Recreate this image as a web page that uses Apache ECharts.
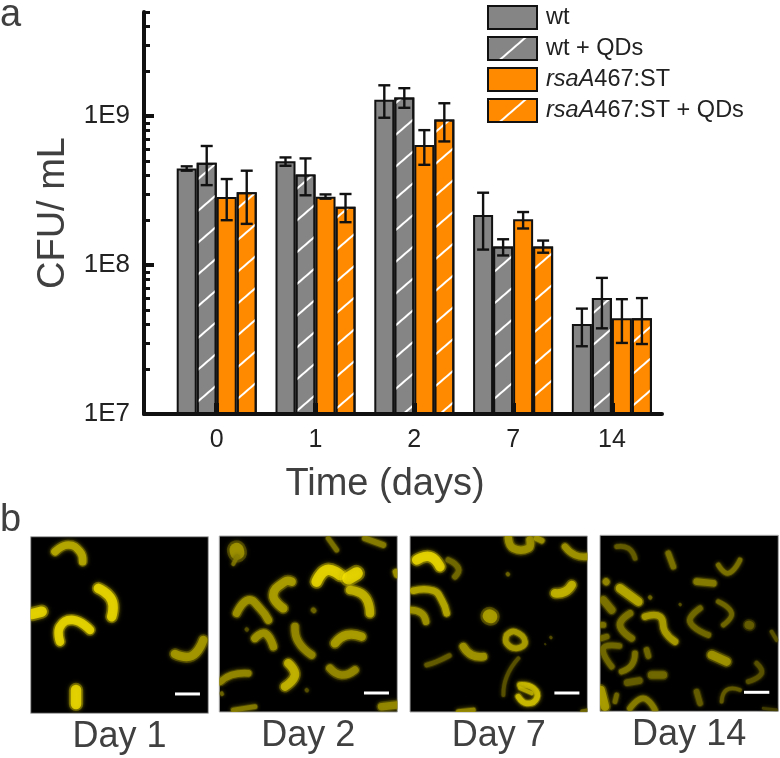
<!DOCTYPE html>
<html><head><meta charset="utf-8">
<style>html,body{margin:0;background:#fff}#c{width:780px;height:758px}</style>
<script src="https://cdn.jsdelivr.net/npm/echarts@6/dist/echarts.min.js"></script>
</head><body><div id="c"></div>
<script>
const timeLabels = ['0','1','2','7','14'];
const groupIndex = [0,1,2,3,4];
const seriesNames = ['wt','wt + QDs','rsaA467:ST','rsaA467:ST + QDs'];
const wtMean   = [4.45e8,4.97e8,1.29e9,2.17e8,4.02e7];
const wtLow    = [4.3e8,4.64e8,9.75e8,1.27e8,2.85e7];
const wtHigh   = [4.6e8,5.28e8,1.61e9,3.06e8,5.1e7];
const wtqMean  = [4.86e8,4.06e8,1.335e9,1.33e8,6.0e7];
const wtqLow   = [3.44e8,2.94e8,1.137e9,1.16e8,3.76e7];
const wtqHigh  = [6.3e8,5.2e8,1.54e9,1.49e8,8.2e7];
const rsaMean  = [2.86e8,2.87e8,6.39e8,2.03e8,4.4e7];
const rsaLow   = [2.0e8,2.79e8,4.71e8,1.76e8,3.0e7];
const rsaHigh  = [3.78e8,2.98e8,8.05e8,2.27e8,5.9e7];
const rsqMean  = [3.08e8,2.46e8,9.5e8,1.33e8,4.4e7];
const rsqLow   = [1.89e8,1.94e8,6.76e8,1.21e8,2.95e7];
const rsqHigh  = [4.3e8,3.0e8,1.22e9,1.46e8,6.0e7];
const majorTicks = [1e7,1e8,1e9];
const minorTicks = [2e7,3e7,4e7,5e7,6e7,7e7,8e7,9e7,2e8,3e8,4e8,5e8,6e8,7e8,8e8,9e8,2e9,3e9,4e9,5e9];
const panelTitles = ['Day 1','Day 2','Day 7','Day 14'];
// micrograph strokes: [width, brightness, x,y, x,y, ...]
const day1Cells = [
 [8,.8,165,125,205,105,240,125,248,155],
 [10,1,295,235,335,270,335,320],
 [11,1,97,312,125,305],
 [9,1,180,395,180,350,220,330,270,360],
 [9,.72,525,432,575,438,610,390],
 [11,1,228,540,228,582]
];
const day2Cells = [
 [15,.7,710,120,712,128],[4,.55,712,140,700,162],
 [5,.55,985,85,1010,120],[6,.6,1095,85,1150,105],
 [11,1,950,215,980,180,1020,195],[13,1,1045,205,1070,190],[6,.7,1187,185,1190,195],
 [9,.85,1050,240,1095,260,1110,310],[9,.75,850,295,820,255,855,215,875,215],
 [8,.7,710,310,745,270,780,295,805,330],[5,.5,940,300,942,302],[4,.4,740,358,741,359],
 [8,.7,765,385,795,370,820,410],[8,.65,885,350,895,395,935,435],
 [9,.75,1005,400,1040,375,1085,380],[8,.65,990,475,1025,495,1065,480],
 [9,.85,865,460,885,495,855,530],[7,.65,662,515,695,495,745,490],[4,.5,665,550,666,552],
 [4,.4,920,540,921,541],[5,.6,700,600,765,590],[8,.65,1145,590,1190,585]
];
const day7Cells = [
 [10,1,80,150,120,140,150,170],[6,.5,175,150,205,175,195,200],
 [8,.7,355,85,370,115,415,115,420,90],[6,.7,440,85,455,92],
 [7,.7,525,110,555,135,590,140],[4,.5,353,192,354,193],
 [9,.85,495,250,525,245,545,225],[7,.8,70,242,130,242,155,270,170,310],
 [7,.7,62,300,95,310,108,335],[14,.75,298,318,302,320],
 [6,.75,350,375,375,365,405,395,380,415,350,400,350,375],
 [3,.4,482,382,483,383],[2,.3,465,402,466,403],
 [8,.7,220,410,245,435,280,440],[5,.45,110,465,140,455,178,437],
 [4,.4,385,445,350,500,340,555],
 [6,.9,390,525,430,535,440,565,410,580,385,560],[4,.8,390,535,425,550],
 [5,.65,205,605,250,600],[3,.5,575,603,592,600]
];
const day14Cells = [
 [5,.45,680,110,715,115,735,145],[6,.55,835,130,850,170],[5,.55,985,165,1015,190,1050,150],
 [7,.6,920,215,970,220],[7,.65,648,215,649,216],[9,.8,690,235,745,275],[4,.5,780,262,781,263],
 [8,.55,640,270,665,300],[3,.4,870,283,871,284],[7,.55,720,310,690,345,725,385],
 [7,.75,765,320,810,320,825,365,855,395],[6,.5,930,295,900,335,955,375],
 [5,.5,985,275,1025,310,1000,345],[9,.45,1076,345,1080,346],[6,.55,635,345,640,345],
 [6,.5,635,385,650,380],[6,.5,688,408,640,415,665,470],[6,.55,735,430,725,465,695,485],
 [6,.5,770,420,775,438],[4,.4,1145,365,1160,390],[9,.7,965,435,1010,455],
 [8,.5,785,495,820,495],[7,.45,712,518,748,512],[5,.4,1100,460,1115,490,1075,515],
 [9,.75,632,540,645,590],[5,.5,680,555,675,575],[6,.45,920,545,930,580],
 [6,.6,720,595,760,565,795,600],[4,.45,995,575,1010,540,1050,540],[3,.3,1120,595,1160,600]
];
const scaleBars = [[525,600,552],[1092,1167,549],[493,568,549],[1062,1138,547]];
const panelExtents = [[92,625,80,610],[658,1192,78,606],[60,592,78,606],[630,1165,76,604]];

const hatch = {symbol:'rect',symbolSize:1,color:'#fff',dashArrayX:[1,0],dashArrayY:[2,22],rotation:-Math.PI/4.4};
const colors = ['#858585','#858585','#ff8a00','#ff8a00'];
const means = [wtMean,wtqMean,rsaMean,rsqMean];
const lows = [wtLow,wtqLow,rsaLow,rsqLow];
const highs = [wtHigh,wtqHigh,rsaHigh,rsqHigh];
const ink = '#111';
const grey = '#404040';
const font = '"Liberation Sans",Arial,sans-serif';
const hatched = [false,true,false,true];

const barSeries = seriesNames.map((n,k)=>({
  type:'bar',name:n,xAxisIndex:0,yAxisIndex:0,barWidth:'20.25%',barGap:'0%',z:2,
  data:groupIndex.map((g,i)=>[g,means[k][i]]),
  itemStyle:Object.assign({color:colors[k],borderColor:ink,borderWidth:2},hatched[k]?{decal:hatch}:{})
}));
const errSeries = seriesNames.map((n,k)=>({
  type:'custom',name:n+' error',xAxisIndex:0,yAxisIndex:0,z:4,clip:false,silent:true,
  encode:{x:0,y:[1,2]},
  data:groupIndex.map((g,i)=>[g,lows[k][i],highs[k][i]]),
  renderItem(params,api){
    const band=api.size([1,0])[0], off=(k-1.5)*band*0.2025;
    const lo=api.coord([api.value(0),api.value(1)]), hi=api.coord([api.value(0),api.value(2)]);
    const x=lo[0]+off, cap=6, st={stroke:ink,lineWidth:2.4};
    return {type:'group',children:[
      {type:'line',shape:{x1:x,y1:lo[1],x2:x,y2:hi[1]},style:st},
      {type:'line',shape:{x1:x-cap,y1:lo[1],x2:x+cap,y2:lo[1]},style:st},
      {type:'line',shape:{x1:x-cap,y1:hi[1],x2:x+cap,y2:hi[1]},style:st}
    ]};
  }
}));
function rgb(b){return 'rgb('+Math.round(255*b)+','+Math.round(235*b)+',0)';}
const panelCells=[day1Cells,day2Cells,day7Cells,day14Cells];
const panelSeries = panelCells.map((cells,p)=>({
  type:'custom',name:panelTitles[p],xAxisIndex:p+1,yAxisIndex:p+2,silent:true,z:3,
  data:cells.map((c,i)=>[c[2],c[3],i]),
  renderItem(params,api){
    const c=cells[params.dataIndex], pts=[];
    for(let j=2;j<c.length;j+=2) pts.push(api.coord([c[j],c[j+1]]));
    const a=api.coord([panelExtents[p][0],panelExtents[p][2]]), b=api.coord([panelExtents[p][1],panelExtents[p][3]]);
    const col=rgb(c[1]);
    const style=(w,o,bl)=>({fill:null,stroke:col,lineWidth:w,lineCap:'round',lineJoin:'round',opacity:o,shadowBlur:bl,shadowColor:rgb(c[1]*.7)});
    const line=(w,o,bl)=>({type:'polyline',shape:{points:pts,smooth:.5},style:style(w,o,bl)});
    return {type:'group',clipPath:{type:'rect',shape:{x:a[0],y:a[1],width:b[0]-a[0],height:b[1]-a[1]}},children:[
      line(c[0]*1.3,.3,5),line(c[0]*.95,.7,4)
    ]};
  }
}));
const barsSeries = scaleBars.map((s,p)=>({
  type:'custom',name:'scale '+p,xAxisIndex:p+1,yAxisIndex:p+2,silent:true,z:4,
  data:[[s[0],s[1],s[2]]],
  renderItem(params,api){
    const a=api.coord([api.value(0),api.value(2)]),b=api.coord([api.value(1),api.value(2)]);
    return {type:'line',shape:{x1:a[0],y1:a[1],x2:b[0],y2:b[1]},style:{stroke:'#fff',lineWidth:3}};
  }
}));
const panelBoxes=[[30.7,536.7,177.6,176.6],[219.3,536,178,176],[410,536,177.4,176],[600,535.3,178.3,176]];
const legendText={fontFamily:font,fontSize:23.5,lineHeight:23,color:'#222'};
const option = {
  animation:false,
  backgroundColor:'#fff',
  textStyle:{fontFamily:font},
  legend:{
    show:true,orient:'vertical',left:487,top:5,padding:0,icon:'rect',itemWidth:49,itemHeight:23,itemGap:6,selectedMode:false,
    data:seriesNames,
    formatter:n=>n.startsWith('rsaA')?'{i|rsaA}{n|'+n.slice(4)+'}':'{n|'+n+'}',
    textStyle:Object.assign({},legendText,{padding:[0,0,0,4],rich:{i:Object.assign({fontStyle:'italic'},legendText),n:Object.assign({},legendText)}})
  },
  grid:[{left:144,top:12,width:518,height:402,outerBoundsMode:'none'}].concat(panelBoxes.map(b=>({
    left:b[0],top:b[1],width:b[2],height:b[3],show:true,backgroundColor:'#000',borderColor:'#aaa',borderWidth:1,outerBoundsMode:'none'
  }))),
  xAxis:[{
    type:'value',gridIndex:0,min:-0.736,max:4.507,z:5,
    axisLine:{show:true,lineStyle:{color:ink,width:4,cap:'round'}},
    axisTick:{show:true,inside:true,length:11,customValues:groupIndex,lineStyle:{color:ink,width:5}},
    axisLabel:{show:true,customValues:groupIndex,formatter:v=>timeLabels[Math.round(v)],fontSize:25,color:'#222',margin:14,fontFamily:font},
    splitLine:{show:false},
    name:'Time (days)',nameLocation:'middle',nameGap:52,nameTextStyle:{fontSize:38,color:grey,fontFamily:font,padding:[0,36,0,0]}
  }].concat(panelExtents.map((e,p)=>({
    type:'value',gridIndex:p+1,min:e[0],max:e[1],
    axisLine:{show:false},axisTick:{show:false},axisLabel:{show:false},splitLine:{show:false},
    name:panelTitles[p],nameLocation:'middle',nameGap:6,nameTextStyle:{fontSize:36,color:grey,fontFamily:font}
  }))),
  yAxis:[{
    type:'log',logBase:10,gridIndex:0,min:1e7,max:5e9,z:5,
    axisLine:{show:true,onZero:false,lineStyle:{color:ink,width:4,cap:'round'}},
    axisTick:{show:true,inside:true,length:10,customValues:majorTicks,lineStyle:{color:ink,width:4}},
    axisLabel:{show:true,customValues:majorTicks,formatter:v=>'1E'+Math.round(Math.log10(v)),fontSize:26,color:'#222',margin:14,fontFamily:font},
    splitLine:{show:false},
    name:'CFU/ mL',nameLocation:'middle',nameGap:67,nameTextStyle:{fontSize:38,color:grey,fontFamily:font}
  },{
    type:'log',logBase:10,gridIndex:0,min:1e7,max:5e9,z:5,position:'left',
    axisLine:{show:false,onZero:false},
    axisTick:{show:true,inside:true,length:6,customValues:minorTicks,lineStyle:{color:ink,width:3}},
    axisLabel:{show:false},splitLine:{show:false}
  }].concat(panelExtents.map((e,p)=>({
    type:'value',gridIndex:p+1,min:e[2],max:e[3],inverse:true,
    axisLine:{show:false},axisTick:{show:false},axisLabel:{show:false},splitLine:{show:false}
  }))),
  graphic:[
    {type:'text',left:0,top:-3,style:{text:'a',fontSize:38,fill:grey,fontFamily:font}},
    {type:'text',left:0,top:502,style:{text:'b',fontSize:38,fill:grey,fontFamily:font}}
  ],
  series:barSeries.concat(errSeries,panelSeries,barsSeries)
};
const chart = echarts.init(document.getElementById('c'),null,{renderer:'canvas'});
chart.setOption(option);
</script></body></html>
